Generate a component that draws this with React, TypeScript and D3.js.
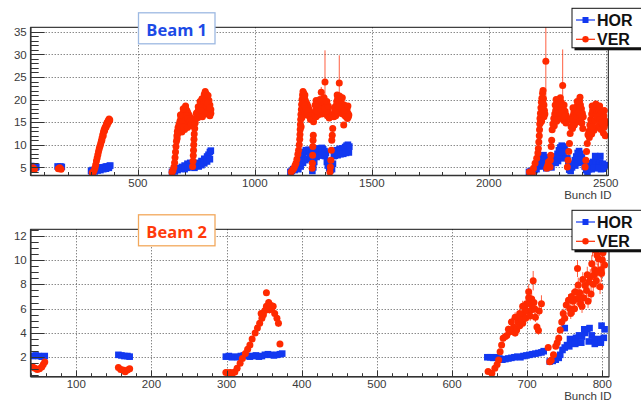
import React from "react";
import * as d3 from "d3";

const W = 641;
const H = 405;

type Pt = [number, number];
type ErrPt = [number, number, number?];

// ---------- Beam 1 (bunch ID, emittance) ----------
const beam1Hor: Pt[] = [
  [44, 5.3], [50, 5.0], [56, 5.2], [62, 4.9], [66, 5.1],
  [157, 5.2], [163, 5.0], [169, 5.2], [175, 5.1],
  [300, 4.2], [306, 4.4], [312, 4.3], [318, 4.6], [324, 4.5], [330, 4.8], [336, 4.7], [342, 4.9], [348, 5.0],
  [354, 4.9], [360, 5.1], [366, 5.2], [372, 5.1], [378, 5.3], [382, 5.4],
  [304, 4.0], [316, 4.1], [328, 4.3], [340, 4.4], [352, 4.6], [364, 4.7], [376, 4.9],
  [646, 4.0], [652, 4.3], [658, 4.1], [664, 4.6], [670, 4.4], [676, 4.8], [682, 4.7], [688, 5.1], [694, 4.9],
  [700, 5.4], [706, 5.2], [712, 5.8], [718, 5.5], [724, 6.0], [730, 5.6], [736, 5.2], [742, 4.9], [748, 5.3],
  [754, 5.6], [760, 6.0], [766, 5.8], [772, 6.4], [778, 6.2], [784, 6.9], [790, 6.6], [796, 7.4], [802, 7.8],
  [808, 8.4], [812, 8.7],
  [700, 4.6], [712, 4.9], [724, 5.1], [760, 5.2], [772, 5.5], [784, 5.9], [796, 6.3], [808, 6.8],
  [1152, 4.0], [1158, 4.2], [1164, 4.6], [1170, 4.4], [1176, 5.0], [1182, 5.6], [1188, 6.3], [1194, 7.0],
  [1200, 7.5], [1206, 8.0], [1212, 8.4], [1218, 8.8], [1224, 8.5], [1230, 8.9], [1236, 8.6], [1242, 8.2],
  [1186, 4.6], [1196, 5.2], [1206, 6.0], [1216, 6.6], [1226, 6.9], [1236, 7.1],
  [1246, 4.2], [1250, 5.0], [1254, 6.2], [1258, 7.4], [1262, 8.3], [1268, 8.9], [1274, 9.2], [1280, 8.8],
  [1286, 9.3], [1292, 9.0], [1298, 8.6], [1304, 8.2],
  [1264, 7.3], [1276, 7.6], [1288, 7.8], [1300, 7.5],
  [1308, 6.2], [1312, 5.4], [1318, 4.8], [1324, 4.4], [1330, 4.6], [1334, 5.8], [1316, 6.4], [1326, 5.6],
  [1338, 7.5], [1344, 8.3], [1350, 8.8], [1356, 8.5], [1362, 9.1], [1368, 8.7], [1374, 9.2], [1380, 8.9],
  [1386, 9.5], [1392, 9.8], [1398, 10.0], [1404, 9.6],
  [1342, 7.6], [1354, 7.7], [1366, 7.9], [1378, 8.0], [1390, 8.2], [1402, 8.3],
  [2172, 4.0], [2180, 4.2], [2188, 4.1], [2196, 4.4], [2204, 4.6], [2210, 5.2], [2216, 6.0], [2222, 6.8],
  [2228, 7.4], [2234, 7.7], [2240, 7.2], [2246, 6.6], [2252, 5.8], [2258, 5.2], [2264, 5.6], [2270, 6.4],
  [2276, 7.0], [2282, 7.4], [2288, 7.2], [2294, 8.0], [2300, 8.8], [2306, 9.4], [2312, 9.8], [2318, 9.6],
  [2324, 9.2], [2330, 8.6], [2336, 7.0], [2340, 5.6], [2344, 4.5], [2350, 4.2], [2356, 5.0], [2362, 5.8],
  [2368, 6.6], [2374, 7.4], [2380, 8.2], [2386, 8.6], [2392, 8.0], [2398, 7.2], [2404, 6.2], [2410, 5.2],
  [2416, 4.4], [2422, 4.0], [2428, 4.6], [2434, 5.4], [2440, 5.9], [2446, 6.2], [2452, 5.8], [2458, 6.3],
  [2464, 6.0], [2470, 5.6], [2476, 6.1], [2482, 5.4], [2488, 5.8], [2494, 5.2], [2498, 5.5],
  [2236, 5.2], [2246, 4.8], [2296, 6.4], [2308, 7.0], [2320, 7.2], [2382, 6.0], [2440, 4.6], [2460, 4.8],
  [2480, 4.6], [2455, 7.5], [2477, 7.5],
  [2226, 5.8], [2256, 6.6], [2268, 5.0], [2286, 6.0], [2302, 7.6], [2314, 8.4], [2370, 5.4], [2392, 6.6],
  [2450, 5.0], [2470, 4.9], [2490, 4.7],
];

const beam1Ver: ErrPt[] = [
  [46, 4.7], [52, 4.9], [58, 4.6],
  [160, 4.7], [166, 4.9], [172, 4.6],
  [305, 3.8], [309, 3.9], [313, 4.3], [317, 4.9], [320, 5.6], [323, 6.4], [326, 7.1], [329, 7.8], [332, 8.5],
  [335, 9.1], [338, 9.7], [341, 10.2], [344, 10.8], [347, 11.5], [350, 12.2], [353, 12.8], [356, 13.3],
  [359, 13.7], [362, 14.0], [365, 14.4], [368, 14.8], [371, 15.1], [374, 15.4], [377, 15.7], [380, 15.5],
  [346, 11.0], [352, 12.0], [358, 13.1], [364, 13.9], [370, 14.5], [376, 15.1],
  [646, 3.9], [650, 4.3], [654, 5.0], [657, 6.0], [659, 7.2], [661, 8.4], [663, 9.6], [665, 10.8], [667, 12.0],
  [669, 13.0], [672, 13.8], [676, 14.5], [680, 15.2], [684, 15.8], [688, 16.4], [692, 16.9], [696, 17.2],
  [700, 17.6], [704, 18.0], [708, 17.7], [712, 17.3], [716, 16.8], [720, 16.4], [724, 16.0], [728, 15.6],
  [676, 13.2], [684, 14.0], [692, 14.6], [700, 14.8], [708, 15.0], [716, 14.6], [724, 14.2], [688, 12.8], [700, 13.4],
  [680, 13.8], [690, 15.4], [698, 16.2], [706, 16.4], [714, 15.8], [722, 15.2], [696, 13.9], [712, 13.8],
  [728, 14.6], [682, 16.6], [694, 18.0], [704, 18.6], [668, 11.4], [670, 12.4],
  [734, 5.2], [736, 6.4], [737, 7.6], [738, 8.8], [739, 10.0], [740, 11.2], [741, 12.4], [743, 13.6], [745, 14.8],
  [748, 15.8], [752, 16.6], [756, 17.3], [760, 17.8], [764, 18.2], [768, 18.0], [772, 18.6], [776, 19.3],
  [780, 20.0], [784, 21.2], [788, 21.8], [792, 21.3], [796, 20.4], [800, 20.9], [804, 19.8], [808, 18.8], [812, 17.8],
  [756, 16.0], [764, 16.4], [772, 16.8], [780, 17.2], [788, 17.6], [796, 17.9], [804, 17.5], [812, 17.0],
  [800, 18.6], [784, 18.5],
  [750, 17.0], [758, 18.4], [766, 19.6], [774, 20.2], [782, 19.4], [790, 19.6], [798, 19.2], [806, 18.2],
  [770, 17.6], [790, 16.8], [808, 16.4], [776, 16.2],
  [1155, 4.0], [1162, 4.4], [1167, 4.8], [1172, 5.4], [1176, 5.9], [1180, 6.8], [1184, 7.9], [1187, 8.8],
  [1190, 10.0], [1192, 11.2], [1193, 12.3], [1194, 13.4], [1195, 14.5], [1196, 15.6], [1197, 16.7],
  [1199, 17.8], [1200, 18.9], [1202, 20.0], [1204, 21.0], [1206, 21.8], [1209, 21.4], [1212, 20.6],
  [1216, 19.8], [1220, 19.3], [1224, 18.9], [1228, 18.4], [1232, 17.8], [1236, 17.2], [1240, 16.4], [1244, 15.8],
  [1204, 18.2], [1210, 17.6], [1216, 17.0], [1222, 16.6], [1208, 19.0],
  [1212, 18.6], [1218, 18.0], [1226, 17.4], [1232, 16.4], [1238, 15.6], [1214, 21.0], [1198, 14.0], [1201, 16.0],
  [1245, 4.8], [1246, 5.9], [1247, 7.7], [1248, 9.6], [1249, 11.0], [1250, 12.1], [1251, 15.1],
  [1256, 16.5], [1260, 17.6], [1264, 18.4], [1268, 19.0], [1272, 19.3], [1276, 18.8], [1280, 19.5],
  [1284, 19.0], [1288, 18.6], [1292, 19.2], [1296, 19.6], [1300, 19.0], [1304, 18.4], [1308, 18.0],
  [1312, 17.6], [1316, 17.0], [1320, 16.5],
  [1262, 16.2], [1270, 16.6], [1278, 17.0], [1286, 16.8], [1294, 17.2], [1302, 16.9], [1310, 16.4],
  [1274, 17.8], [1290, 17.9], [1306, 17.5],
  [1258, 18.8], [1266, 17.5], [1282, 17.9], [1298, 18.1], [1314, 18.6], [1318, 15.9], [1262, 19.8],
  [1296, 20.4], [1278, 20.0], [1308, 19.6],
  [1284, 21.6, 1.2], [1300, 23.9, 7.0],
  [1321, 4.0], [1323, 5.1], [1325, 6.6], [1327, 8.8], [1329, 11.0], [1331, 12.1], [1333, 13.6],
  [1338, 16.2], [1342, 17.4], [1346, 18.6], [1350, 19.6], [1354, 20.2], [1358, 20.0], [1364, 19.4],
  [1368, 19.8], [1372, 19.0], [1376, 18.4], [1382, 18.8], [1386, 18.0], [1390, 17.4], [1394, 17.8],
  [1398, 17.0], [1402, 16.6],
  [1346, 16.4], [1356, 17.0], [1366, 17.2], [1376, 16.8], [1386, 16.4], [1396, 15.8],
  [1340, 18.2], [1348, 17.6], [1360, 18.4], [1370, 18.0], [1380, 17.6], [1390, 16.2], [1398, 18.6],
  [1352, 21.0], [1362, 20.8], [1374, 20.4],
  [1361, 23.7, 6.1], [1380, 14.4, 0.5], [1400, 16.2, 0.4],
  [2174, 4.0], [2180, 3.8], [2186, 3.7], [2191, 4.8], [2198, 5.9], [2205, 7.0], [2210, 8.2], [2212, 9.2],
  [2214, 10.6], [2216, 12.0], [2217, 13.3], [2218, 14.6], [2219, 15.8], [2221, 17.0], [2223, 18.2],
  [2225, 19.4], [2227, 20.3], [2230, 21.4], [2232, 22.0], [2234, 20.2], [2236, 18.8], [2238, 17.6], [2240, 16.8],
  [2224, 16.4], [2230, 17.0], [2236, 16.2], [2220, 14.8], [2228, 18.0], [2226, 15.2], [2232, 19.2],
  [2244, 28.5, 8.0],
  [2248, 4.8], [2252, 5.4], [2255, 6.2], [2262, 5.1], [2263, 6.6], [2265, 7.7], [2267, 9.6], [2269, 11.0], [2271, 13.3],
  [2274, 14.6], [2278, 15.8], [2282, 16.8], [2286, 17.6], [2290, 18.4], [2294, 19.2], [2298, 19.8],
  [2302, 19.0], [2306, 18.2], [2310, 19.4], [2314, 18.6], [2318, 17.8], [2322, 18.8], [2326, 17.4],
  [2330, 16.6], [2334, 16.0],
  [2280, 14.2], [2290, 15.2], [2300, 15.8], [2310, 16.0], [2320, 15.4], [2330, 14.8], [2296, 17.0], [2316, 16.8],
  [2284, 18.8], [2292, 17.0], [2304, 17.2], [2312, 17.4], [2324, 16.4], [2288, 20.0], [2306, 20.4],
  [2316, 23.1, 8.0],
  [2336, 5.1], [2339, 6.6], [2342, 8.5], [2345, 10.3], [2348, 12.5],
  [2352, 14.0], [2356, 15.2], [2360, 16.4], [2364, 17.2], [2368, 18.0], [2372, 17.4], [2376, 18.4],
  [2380, 17.8], [2384, 18.6], [2388, 19.6], [2392, 18.8], [2396, 18.0], [2400, 17.0], [2404, 16.2],
  [2358, 13.6], [2366, 14.4], [2374, 15.0], [2382, 15.6], [2390, 16.0], [2398, 14.8], [2402, 13.6], [2390, 20.5],
  [2362, 15.6], [2370, 16.4], [2378, 16.8], [2386, 17.2], [2394, 16.8], [2360, 18.2], [2378, 19.6],
  [2412, 5.1], [2415, 6.6], [2418, 8.5], [2421, 10.3], [2424, 12.2],
  [2428, 13.0], [2432, 14.4], [2436, 15.6], [2440, 16.8], [2444, 17.6], [2448, 18.4], [2452, 17.8],
  [2456, 18.6], [2460, 18.0], [2464, 17.2], [2468, 18.0], [2472, 17.4], [2476, 16.6], [2480, 17.0],
  [2484, 16.2], [2488, 15.6], [2492, 16.4], [2496, 15.4], [2500, 14.8],
  [2430, 11.6], [2440, 12.4], [2450, 13.2], [2460, 13.8], [2470, 14.2], [2480, 13.4], [2490, 12.6],
  [2498, 12.0], [2446, 15.2], [2466, 15.8], [2486, 14.6],
  [2434, 12.8], [2444, 14.0], [2454, 15.4], [2462, 16.2], [2474, 15.6], [2484, 15.0], [2494, 14.0],
  [2458, 19.0], [2442, 18.6], [2474, 18.6], [2494, 17.6],
];

// ---------- Beam 2 ----------
const beam2Hor: Pt[] = [
  [42, 2.1], [46, 2.15], [50, 2.1], [54, 2.05], [58, 2.1],
  [156, 2.2], [160, 2.15], [164, 2.1], [168, 2.1], [171, 2.05],
  [299, 2.05], [303, 2.1], [307, 2.0], [311, 2.05], [315, 2.0], [319, 2.1], [323, 2.15], [327, 2.1],
  [331, 2.05], [335, 2.1], [339, 2.15], [343, 2.05], [347, 2.1], [351, 2.2], [355, 2.25], [359, 2.2],
  [363, 2.15], [367, 2.2], [371, 2.25], [374, 2.3],
  [647, 2.0], [651, 2.0], [655, 1.95], [659, 2.0], [663, 1.9], [667, 1.8], [671, 1.85], [675, 1.9],
  [679, 1.95], [683, 2.0], [687, 2.05], [691, 2.0], [695, 2.1], [699, 2.15], [703, 2.2], [707, 2.25],
  [711, 2.3], [715, 2.35], [719, 2.4], [722, 2.5],
  [730, 1.65], [734, 1.7], [738, 1.8], [742, 1.95], [744, 2.2], [747, 2.6], [750, 2.8], [753, 3.0],
  [757, 3.5], [761, 3.4], [765, 3.6], [769, 3.8], [773, 3.7], [777, 4.0], [780, 4.3], [783, 4.4],
  [786, 3.8], [790, 3.4], [794, 3.5], [798, 3.4], [802, 3.6],
  [756, 2.9], [764, 3.1], [772, 3.2], [782, 3.3], [790, 3.1], [798, 3.2],
  [750, 4.4], [776, 4.3], [799, 4.6], [803, 4.3],
];

const beam2Ver: ErrPt[] = [
  [42, 1.2, 0.1], [45, 1.1, 0.1], [48, 1.0, 0.1], [51, 1.05, 0.1], [54, 1.2, 0.1], [56, 1.4, 0.1], [58, 1.6, 0.1],
  [156, 1.15, 0.1], [159, 1.0, 0.1], [162, 0.95, 0.1], [165, 0.8, 0.1], [168, 0.95, 0.1], [171, 1.05, 0.1],
  [299, 0.75, 0.1], [302, 0.72, 0.1], [305, 0.75, 0.1], [308, 0.7, 0.1], [311, 0.78, 0.1], [314, 1.1, 0.1],
  [318, 1.5, 0.15], [321, 1.9, 0.15], [325, 2.3, 0.15], [328, 2.65, 0.2], [331, 3.0, 0.2], [334, 3.5, 0.2],
  [338, 4.0, 0.2], [341, 4.4, 0.25], [344, 4.8, 0.25], [347, 5.2, 0.25], [349, 5.5, 0.3], [351, 5.85, 0.3],
  [353, 6.2, 0.3], [356, 6.5, 0.3], [358, 6.3, 0.3], [360, 6.0, 0.3], [362, 6.2, 0.3], [364, 5.6, 0.3],
  [367, 5.2, 0.3], [369, 4.8, 0.3], [371, 3.1, 0.25], [353, 7.3, 0.25], [357, 5.9, 0.3], [346, 5.6, 0.3],
  [648, 0.82, 0.15], [653, 0.68, 0.15], [657, 1.1, 0.15], [660, 1.4, 0.2], [662, 1.78, 0.2], [664, 2.46, 0.25],
  [666, 3.0, 0.25], [668, 3.56, 0.3], [671, 3.7, 0.3], [673, 3.8, 0.3], [675, 4.3, 0.3], [677, 4.1, 0.3],
  [679, 4.9, 0.35], [681, 4.3, 0.3], [682, 4.5, 0.35], [684, 4.0, 0.3], [686, 4.25, 0.35], [688, 4.9, 0.35],
  [690, 4.6, 0.35], [692, 5.2, 0.4], [695, 5.6, 0.4], [697, 6.0, 0.4], [699, 6.4, 0.45], [700, 5.8, 0.4],
  [702, 6.9, 0.45], [704, 6.4, 0.45], [706, 5.9, 0.4], [708, 8.3, 0.8], [709, 6.5, 0.45], [711, 5.3, 0.4],
  [713, 4.5, 0.35], [715, 4.2, 0.35], [716, 5.8, 0.4], [719, 6.4, 0.7], [728, 2.8, 0.2],
  [690, 5.6, 0.4], [694, 4.8, 0.35], [698, 5.2, 0.4], [704, 5.4, 0.4], [702, 7.4, 0.6], [706, 6.8, 0.5],
  [694, 6.2, 0.45], [684, 5.3, 0.4], [710, 6.0, 0.45],
  [730, 1.64, 0.15], [732, 1.75, 0.15], [735, 2.2, 0.2], [738, 2.9, 0.25], [740, 3.2, 0.25], [742, 3.56, 0.3],
  [744, 4.25, 0.3], [746, 4.9, 0.35], [748, 5.6, 0.4], [750, 5.2, 0.4], [752, 6.3, 0.45], [755, 6.7, 0.5],
  [757, 6.0, 0.45], [759, 7.0, 0.5], [761, 6.6, 0.5], [764, 7.4, 0.55], [766, 6.8, 0.5], [767, 9.3, 0.7],
  [768, 7.95, 0.6], [770, 7.3, 0.55], [771, 6.4, 0.5], [773, 6.2, 0.55], [775, 6.9, 0.55], [777, 7.9, 0.6],
  [779, 7.5, 0.6], [781, 6.6, 0.55], [782, 8.2, 0.6], [784, 8.6, 0.65], [786, 9.7, 0.7], [788, 8.0, 0.6],
  [790, 9.2, 0.7], [792, 8.3, 0.65], [793, 10.4, 0.8], [795, 10.1, 0.75], [797, 7.8, 0.6], [798, 9.2, 0.7],
  [799, 8.9, 0.7], [800, 10.0, 0.7], [801, 10.6, 0.8], [796, 11.4, 0.9], [802, 11.8, 0.9], [798, 12.2, 1.0],
  [803, 9.6, 0.7],
  [758, 5.6, 0.45], [763, 6.0, 0.5], [769, 6.9, 0.55], [774, 8.4, 0.6], [780, 8.8, 0.65], [785, 7.2, 0.6],
  [789, 8.8, 0.7], [794, 9.0, 0.7], [791, 10.8, 0.8], [787, 11.2, 0.9],
];

const beam1XTicks = [500, 1000, 1500, 2000, 2500];
const beam1YTicks = [5, 10, 15, 20, 25, 30, 35];
const beam2XTicks = [100, 200, 300, 400, 500, 600, 700, 800];
const beam2YTicks = [2, 4, 6, 8, 10, 12];
const legendLabels = ["HOR", "VER"];
const xTitle = "Bunch ID";

const BLUE = "#1238f0";
const RED = "#ff2a00";
const FONT = "'Liberation Sans', Arial, Helvetica, sans-serif";

interface PanelCfg {
  id: string;
  left: number; right: number; top: number; bottom: number;
  xDomain: [number, number];
  yDomain: [number, number];
  xMajor: number[]; xMinorStep: number;
  yMajor: number[]; yMinorStep: number;
  hor: Pt[]; ver: ErrPt[];
  defaultErr: number;
  title: string; titleColor: string; titleBorder: string;
}

function Panel({ c }: { c: PanelCfg }) {
  const x = d3.scaleLinear().domain(c.xDomain).range([c.left, c.right]);
  const y = d3.scaleLinear().domain(c.yDomain).range([c.bottom, c.top]);
  const clipId = `clip-${c.id}`;
  const snap = (v: number) => Math.round(v) + 0.5;

  const xMinor = d3.range(Math.ceil(c.xDomain[0] / c.xMinorStep) * c.xMinorStep, c.xDomain[1], c.xMinorStep)
    .filter((v) => !c.xMajor.includes(Math.round(v)));
  const yMinor = d3.range(Math.ceil(c.yDomain[0] / c.yMinorStep) * c.yMinorStep, c.yDomain[1], c.yMinorStep)
    .filter((v) => !c.yMajor.some((m) => Math.abs(m - v) < 1e-6));

  const legX = 572;
  const legY = c.top - 19;
  const sq = 6.6;

  return (
    <g>
      <defs>
        <clipPath id={clipId}>
          <rect x={c.left} y={c.top} width={c.right - c.left} height={c.bottom - c.top} />
        </clipPath>
      </defs>

      {/* dotted grid */}
      <g stroke="#555" strokeWidth={1} strokeDasharray="1,2" fill="none">
        {c.xMajor.map((v) => (
          <line key={`gx${v}`} x1={snap(x(v))} x2={snap(x(v))} y1={c.top} y2={c.bottom} />
        ))}
        {c.yMajor.map((v) => (
          <line key={`gy${v}`} x1={c.left} x2={c.right} y1={snap(y(v))} y2={snap(y(v))} />
        ))}
      </g>

      {/* data */}
      <g clipPath={`url(#${clipId})`}>
        {c.hor.map(([b, v], i) => (
          <rect key={`h${i}`} x={x(b) - sq / 2} y={y(v) - sq / 2} width={sq} height={sq} fill={BLUE} />
        ))}
        <g stroke={RED} strokeWidth={1} strokeOpacity={0.75}>
          {c.ver.map(([b, v, e], i) => {
            const err = e ?? c.defaultErr;
            return <line key={`e${i}`} x1={x(b)} x2={x(b)} y1={y(v - err)} y2={y(v + err)} />;
          })}
        </g>
        {c.ver.map(([b, v], i) => (
          <circle key={`v${i}`} cx={x(b)} cy={y(v)} r={3.5} fill={RED} />
        ))}
      </g>

      {/* frame */}
      <rect x={c.left} y={c.top} width={c.right - c.left} height={c.bottom - c.top}
        fill="none" stroke="#111" strokeWidth={1} />
      <line x1={c.left} x2={c.right} y1={c.bottom} y2={c.bottom} stroke="#333" strokeWidth={1.6} />
      <line x1={c.left} x2={c.left} y1={c.top} y2={c.bottom} stroke="#333" strokeWidth={1.6} />

      {/* ticks */}
      <g stroke="#333" strokeWidth={1}>
        {c.xMajor.map((v) => (
          <line key={`tx${v}`} x1={snap(x(v))} x2={snap(x(v))} y1={c.bottom} y2={c.bottom - 6} />
        ))}
        {xMinor.map((v) => (
          <line key={`mx${v}`} x1={snap(x(v))} x2={snap(x(v))} y1={c.bottom} y2={c.bottom - 3.5} />
        ))}
        {c.yMajor.map((v) => (
          <line key={`ty${v}`} x1={c.left} x2={c.left + 14} y1={snap(y(v))} y2={snap(y(v))} />
        ))}
        {yMinor.map((v) => (
          <line key={`my${v}`} x1={c.left} x2={c.left + 8} y1={snap(y(v))} y2={snap(y(v))} />
        ))}
      </g>

      {/* tick labels */}
      <g fontFamily={FONT} fontSize={11.5} fill="#3a3a3a">
        {c.xMajor.map((v) => (
          <text key={`lx${v}`} x={x(v)} y={c.bottom + 11.5} textAnchor="middle">{v}</text>
        ))}
        {c.yMajor.map((v) => (
          <text key={`ly${v}`} x={26.7} y={y(v)} dy="0.36em" textAnchor="end">{v}</text>
        ))}
        <text x={611.5} y={c.bottom + 23.5} textAnchor="end">{xTitle}</text>
      </g>

      {/* beam label */}
      <g>
        <rect x={138.5} y={c.top - 14.5} width={76.5} height={31} fill="#fff"
          stroke={c.titleBorder} strokeWidth={1.3} />
        <text x={176.7} y={c.top + 8.5} textAnchor="middle" fontFamily="'Open Sans', sans-serif"
          fontWeight={700} fontSize={16.5} fill={c.titleColor}>{c.title}</text>
      </g>

      {/* legend */}
      <g>
        <rect x={legX + 2.5} y={legY + 2.5} width={80} height={39.5} fill="#111" />
        <rect x={legX} y={legY} width={80} height={39.5} fill="#fff" stroke="#111" strokeWidth={1} />
        {legendLabels.map((lab, i) => {
          const ly = legY + 11.7 + i * 19.3;
          const color = i === 0 ? BLUE : RED;
          return (
            <g key={lab}>
              <line x1={legX + 4} x2={legX + 23} y1={ly} y2={ly} stroke={color} strokeWidth={1.2} />
              {i === 0 ? (
                <rect x={legX + 10.5} y={ly - 3} width={6} height={6} fill={color} />
              ) : (
                <circle cx={legX + 13.5} cy={ly} r={3.2} fill={color} />
              )}
              <text x={legX + 25} y={ly + 5.7} fontFamily={FONT} fontWeight={700} fontSize={16} fill="#111">
                {lab}
              </text>
            </g>
          );
        })}
      </g>
    </g>
  );
}

const panels: PanelCfg[] = [
  {
    id: "b1",
    left: 30.7, right: 608.3, top: 27.3, bottom: 175.5,
    xDomain: [42, 2511], yDomain: [3.2, 36],
    xMajor: beam1XTicks, xMinorStep: 100,
    yMajor: beam1YTicks, yMinorStep: 1,
    hor: beam1Hor, ver: beam1Ver, defaultErr: 0.4,
    title: "Beam 1", titleColor: "#1c4ae6", titleBorder: "#9db9e2",
  },
  {
    id: "b2",
    left: 30.7, right: 609, top: 229.3, bottom: 376.7,
    xDomain: [39.3, 808.9], yDomain: [0.4, 12.53],
    xMajor: beam2XTicks, xMinorStep: 20,
    yMajor: beam2YTicks, yMinorStep: 0.5,
    hor: beam2Hor, ver: beam2Ver, defaultErr: 0.2,
    title: "Beam 2", titleColor: "#ff3a0a", titleBorder: "#f2a85c",
  },
];

export default function App() {
  return (
    <svg width={W} height={H} viewBox={`0 0 ${W} ${H}`}
      style={{ position: "absolute", left: 0, top: 0, background: "#fff" }}>
      <rect x={0} y={0} width={W} height={H} fill="#fff" />
      {panels.map((p) => (
        <Panel key={p.id} c={p} />
      ))}
    </svg>
  );
}
